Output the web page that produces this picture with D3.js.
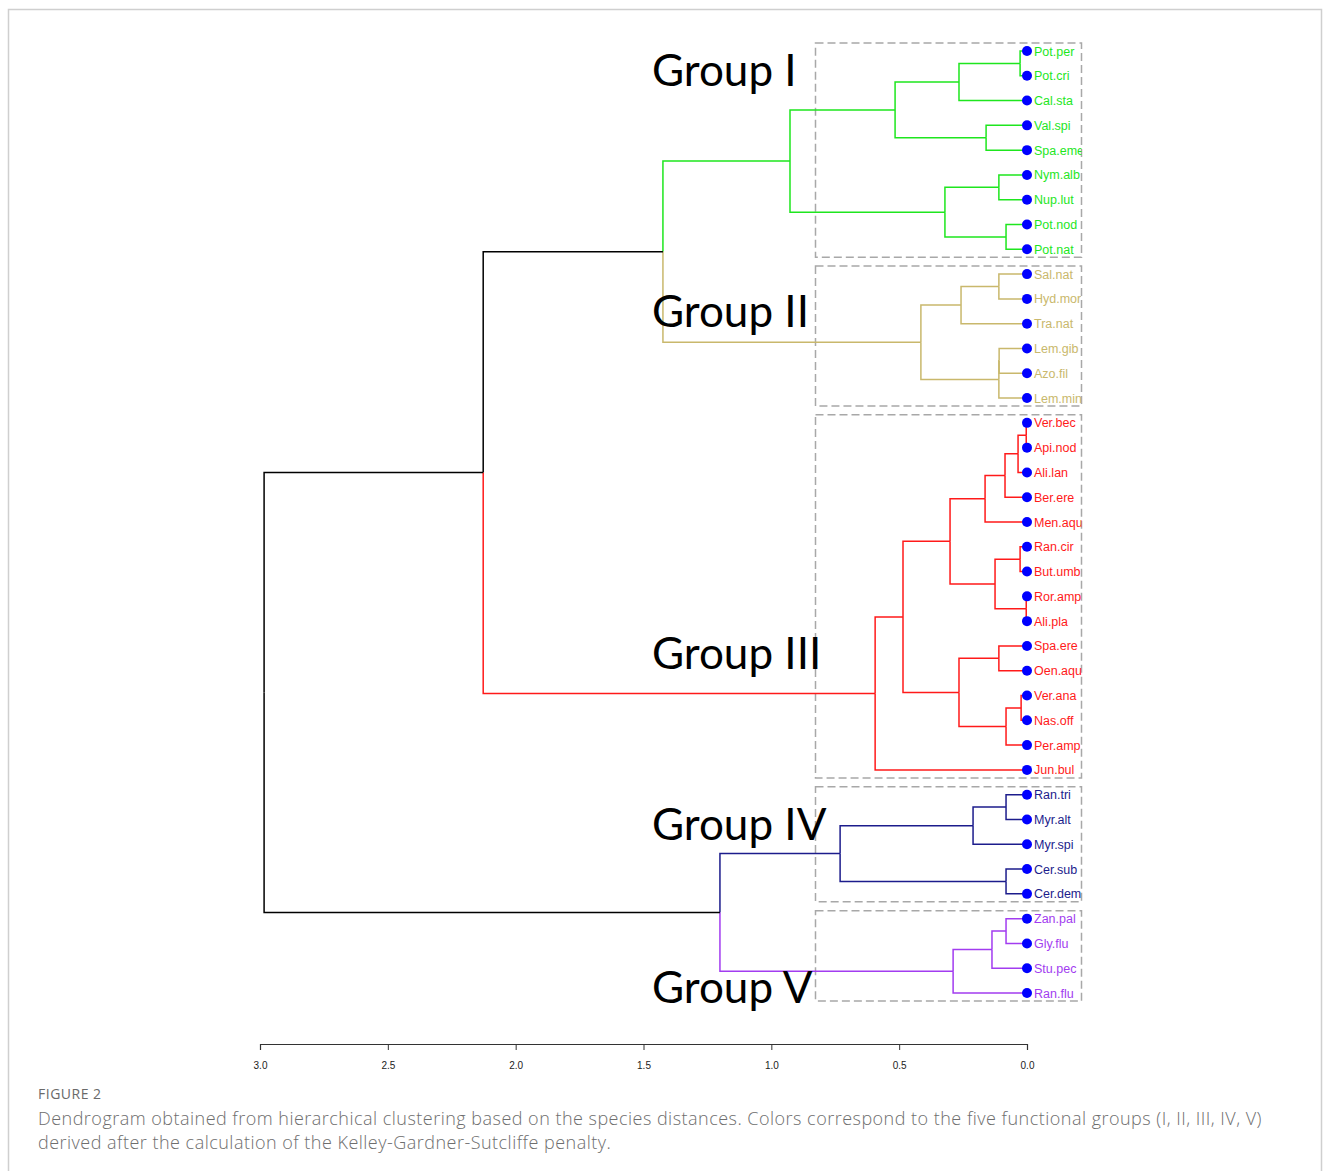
<!DOCTYPE html>
<html>
<head>
<meta charset="utf-8">
<script src="https://cdn.jsdelivr.net/npm/d3@7"></script>
<style>
  body { margin: 0; background: #fff; }
  svg { display: block; }
</style>
</head>
<body>
<div id="container"></div>
<script>
/* DATA */
// leaf order top to bottom
const leaves = [
  "Pot.per", "Pot.cri", "Cal.sta", "Val.spi", "Spa.eme", "Nym.alb", "Nup.lut", "Pot.nod", "Pot.nat",
  "Sal.nat", "Hyd.mor", "Tra.nat", "Lem.gib", "Azo.fil", "Lem.min",
  "Ver.bec", "Api.nod", "Ali.lan", "Ber.ere", "Men.aqu", "Ran.cir", "But.umb", "Ror.amp", "Ali.pla",
  "Spa.ere", "Oen.aqu", "Ver.ana", "Nas.off", "Per.amp", "Jun.bul",
  "Ran.tri", "Myr.alt", "Myr.spi", "Cer.sub", "Cer.dem",
  "Zan.pal", "Gly.flu", "Stu.pec", "Ran.flu"
];

// group of each leaf (same order)
const leafGroup = [
  1, 1, 1, 1, 1, 1, 1, 1, 1,
  2, 2, 2, 2, 2, 2,
  3, 3, 3, 3, 3, 3, 3, 3, 3, 3, 3, 3, 3, 3, 3,
  4, 4, 4, 4, 4,
  5, 5, 5, 5
];

// merges like hclust: names are leaves, numbers are earlier merges (1-based), then height
const merges = [
  ["Pot.per", "Pot.cri", 0.027],  // 1
  [1, "Cal.sta", 0.266],          // 2
  ["Val.spi", "Spa.eme", 0.160],  // 3
  [2, 3, 0.516],                  // 4
  ["Nym.alb", "Nup.lut", 0.110],  // 5
  ["Pot.nod", "Pot.nat", 0.082],  // 6
  [5, 6, 0.321],                  // 7
  [4, 7, 0.927],                  // 8
  ["Sal.nat", "Hyd.mor", 0.110],  // 9
  [9, "Tra.nat", 0.258],          // 10
  ["Lem.gib", "Azo.fil", 0.109],  // 11
  [11, "Lem.min", 0.110],         // 12
  [10, 12, 0.415],                // 13
  [8, 13, 1.424],                 // 14
  ["Ver.bec", "Api.nod", 0.003],  // 15
  [15, "Ali.lan", 0.035],         // 16
  [16, "Ber.ere", 0.086],         // 17
  [17, "Men.aqu", 0.164],         // 18
  ["Ran.cir", "But.umb", 0.027],  // 19
  ["Ror.amp", "Ali.pla", 0.003],  // 20
  [19, 20, 0.125],                // 21
  [18, 21, 0.301],                // 22
  ["Spa.ere", "Oen.aqu", 0.110],  // 23
  ["Ver.ana", "Nas.off", 0.023],  // 24
  [24, "Per.amp", 0.082],         // 25
  [23, 25, 0.266],                // 26
  [22, 26, 0.485],                // 27
  [27, "Jun.bul", 0.594],         // 28
  [14, 28, 2.127],                // 29
  ["Ran.tri", "Myr.alt", 0.082],  // 30
  [30, "Myr.spi", 0.211],         // 31
  ["Cer.sub", "Cer.dem", 0.082],  // 32
  [31, 32, 0.731],                // 33
  ["Zan.pal", "Gly.flu", 0.082],  // 34
  [34, "Stu.pec", 0.137],         // 35
  [35, "Ran.flu", 0.289],         // 36
  [33, 36, 1.201],                // 37
  [29, 37, 2.984]                 // 38
];

const groupNames = ["Group I", "Group II", "Group III", "Group IV", "Group V"];
const groupColors = ["#1ee61e", "#c9b86c", "#ff1a1a", "#1c1c8c", "#a23cf0"];
const xTicks = [3.0, 2.5, 2.0, 1.5, 1.0, 0.5, 0.0];

/* LAYOUT */
const width = 1331, height = 1171;

const xScale = d3.scaleLinear().domain([3, 0]).range([260, 1027]);
const yScale = d3.scalePoint().domain(leaves).range([51, 993]);

// build the tree nodes
const leafNodes = leaves.map((name, i) => ({
  name: name, height: 0, y: yScale(name), group: leafGroup[i], children: null
}));
const byName = new Map(leafNodes.map(d => [d.name, d]));
const mergeNodes = [];
merges.forEach(m => {
  const kids = [m[0], m[1]].map(k => typeof k === "number" ? mergeNodes[k - 1] : byName.get(k));
  mergeNodes.push({
    height: m[2],
    y: d3.mean(kids, k => k.y),
    group: kids[0].group === kids[1].group ? kids[0].group : 0,
    children: kids
  });
});

const colorOf = g => g === 0 ? "#000" : groupColors[g - 1];

const svg = d3.select("#container")
  .append("svg")
  .attr("width", width)
  .attr("height", height);

// frame around the figure
svg.append("rect")
  .attr("x", 8.5).attr("y", 9.5)
  .attr("width", 1313).attr("height", 1200)
  .attr("fill", "none")
  .attr("stroke", "#cfcfcf")
  .attr("stroke-width", 1.5);

// dashed group boxes
const groupExtent = d3.range(1, 6).map(g => {
  const ys = leafNodes.filter(d => d.group === g).map(d => d.y);
  return {g: g, y0: d3.min(ys) - 8, y1: d3.max(ys) + 8};
});
svg.selectAll(".gbox")
  .data(groupExtent)
  .join("rect")
  .attr("class", "gbox")
  .attr("x", 815.5)
  .attr("y", d => d.y0)
  .attr("width", 266)
  .attr("height", d => d.y1 - d.y0)
  .attr("fill", "none")
  .attr("stroke", "#a8a8a8")
  .attr("stroke-width", 1.5)
  .attr("stroke-dasharray", "8,4");

// edges: vertical at parent x, then horizontal to child
const edges = [];
mergeNodes.forEach(p => p.children.forEach(c => edges.push({p: p, c: c})));

svg.selectAll(".edge")
  .data(edges)
  .join("path")
  .attr("class", "edge")
  .attr("fill", "none")
  .attr("stroke", d => colorOf(d.c.group))
  .attr("stroke-width", 1.5)
  .attr("d", d => `M${xScale(d.p.height)},${d.p.y}V${d.c.y}H${xScale(d.c.height)}`);

// group labels
const groupLabelY = [86, 327, 669, 840, 1003];
svg.selectAll(".glabel")
  .data(groupNames)
  .join("text")
  .attr("class", "glabel")
  .attr("x", 652)
  .attr("y", (d, i) => groupLabelY[i])
  .attr("font-family", "Lato, 'Noto Sans', sans-serif")
  .attr("font-size", 44)
  .attr("fill", "#000")
  .text(d => d);

// leaf dots
svg.selectAll(".dot")
  .data(leafNodes)
  .join("circle")
  .attr("class", "dot")
  .attr("cx", xScale(0))
  .attr("cy", d => d.y)
  .attr("r", 5)
  .attr("fill", "#0000ff");

// leaf labels, cut at the box edge
svg.append("clipPath")
  .attr("id", "labclip")
  .append("rect")
  .attr("x", 1000).attr("y", 0)
  .attr("width", 81.5).attr("height", height);

svg.append("g")
  .attr("clip-path", "url(#labclip)")
  .selectAll(".leaf")
  .data(leafNodes)
  .join("text")
  .attr("class", "leaf")
  .attr("x", xScale(0) + 7)
  .attr("y", d => d.y)
  .attr("dy", "0.36em")
  .attr("font-family", "'Liberation Sans', Arial, sans-serif")
  .attr("font-size", 12.5)
  .attr("fill", d => colorOf(d.group))
  .text(d => d.name);

// axis
const xAxis = d3.axisBottom(xScale)
  .tickValues(xTicks)
  .tickFormat(d3.format(".1f"))
  .tickSize(6)
  .tickPadding(12);

const xAxisGroup = svg.append("g")
  .attr("transform", `translate(0, 1044)`)
  .call(xAxis);
xAxisGroup.select(".domain").attr("stroke", "#333").attr("stroke-width", 1.2);
xAxisGroup.selectAll(".tick line").attr("stroke", "#333");
xAxisGroup.selectAll(".tick text")
  .attr("fill", "#222")
  .style("font", "10px 'Liberation Sans', Arial, sans-serif");

// caption
svg.append("text")
  .attr("x", 38).attr("y", 1099)
  .attr("font-family", "'Open Sans', sans-serif")
  .attr("font-size", 14)
  .attr("letter-spacing", 0.5)
  .attr("fill", "#6a6a6a")
  .text("FIGURE 2");

const captionLines = [
  "Dendrogram obtained from hierarchical clustering based on the species distances. Colors correspond to the five functional groups (I, II, III, IV, V)",
  "derived after the calculation of the Kelley-Gardner-Sutcliffe penalty."
];
svg.selectAll(".cap")
  .data(captionLines)
  .join("text")
  .attr("class", "cap")
  .attr("x", 38)
  .attr("y", (d, i) => 1125 + i * 24)
  .attr("font-family", "'Open Sans', sans-serif")
  .attr("font-size", 18)
  .attr("font-weight", 300)
  .attr("letter-spacing", 0.48)
  .attr("fill", "#6e6e6e")
  .text(d => d);
</script>
</body>
</html>
